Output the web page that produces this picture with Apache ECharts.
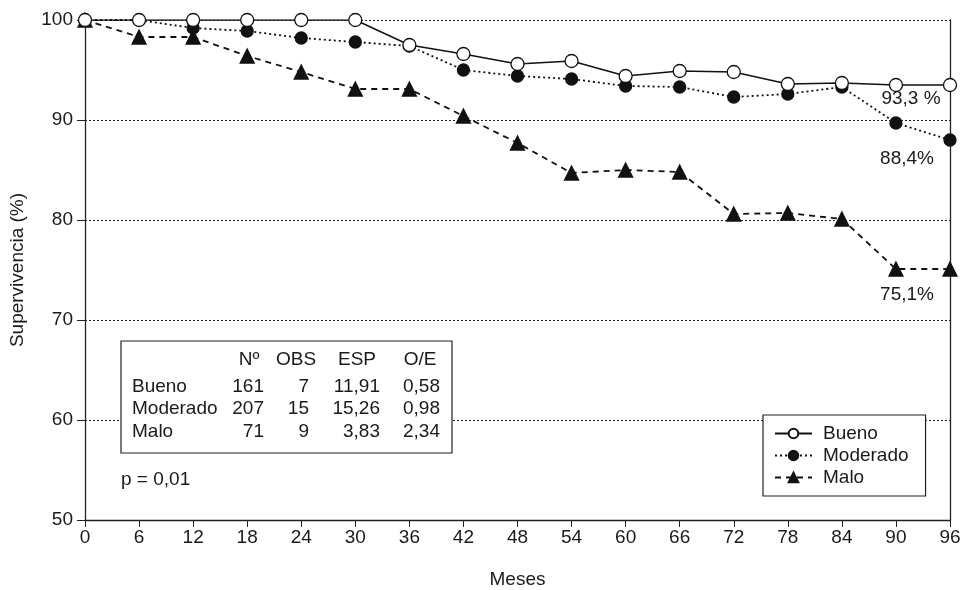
<!DOCTYPE html>
<html><head><meta charset="utf-8">
<script src="https://cdn.jsdelivr.net/npm/echarts@6/dist/echarts.min.js"></script>
<style>html,body{margin:0;padding:0;background:#fff}#c{width:962px;height:590px}</style>
</head><body><div id="c"></div>
<script>
const months = [0,6,12,18,24,30,36,42,48,54,60,66,72,78,84,90,96];
const bueno    = [100,100,100,100,100,100,97.5,96.6,95.6,95.9,94.4,94.9,94.8,93.6,93.7,93.5,93.5];
const moderado = [100,100,99.2,98.9,98.2,97.8,97.4,95.0,94.4,94.1,93.4,93.3,92.3,92.6,93.3,89.7,88.0];
const malo     = [100,98.3,98.3,96.4,94.8,93.1,93.1,90.4,87.7,84.7,85.0,84.8,80.6,80.7,80.1,75.1,75.1];
const seriesNames = ['Bueno','Moderado','Malo'];
const endLabels = ['93,3 %','88,4%','75,1%'];
const tableHeader = ['Nº','OBS','ESP','O/E'];
const tableN   = ['161','207','71'];
const tableObs = ['7','15','9'];
const tableEsp = ['11,91','15,26','3,83'];
const tableOE  = ['0,58','0,98','2,34'];
const pText = 'p = 0,01';

const FONT = 'Liberation Sans, Arial, sans-serif';
const FS = 19;
const TXT = '#1a1a1a';
const chart = echarts.init(document.getElementById('c'));
const labelOffsets = [[-39, -8], [-43, -2], [-43, 4]];

function mk(vals, idx) {
  return months.map((m, i) => {
    const d = {value: [m, vals[i]]};
    if (i === months.length - 1) {
      d.label = {show: true, formatter: endLabels[idx], position: 'bottom',
        offset: labelOffsets[idx], fontSize: FS, color: TXT, fontFamily: FONT};
    }
    return d;
  });
}

const styles = [
  {symbol:'circle', size:13, color:'#fff', border:'#111', type:'solid', w:1.5},
  {symbol:'circle', size:12, color:'#111', border:'#111', type:[2,3], w:1.8},
  {symbol:'triangle', size:14, color:'#111', border:'#111', type:[6,5], w:1.8}
];
const datas = [bueno, moderado, malo];

// table graphics
const colRight = [264, 309, 380, 440];
const colHead = [249, 296, 357, 420];
const rowY = [387, 409, 432];
const g = [];
g.push({type:'rect', shape:{x:121, y:341, width:331, height:112}, style:{fill:'#fff', stroke:'#222', lineWidth:1.2}, z:10});
const font = FS + 'px ' + FONT;
tableHeader.forEach((h, i) => g.push({type:'text', x:colHead[i], y:360, style:{text:h, fill:TXT, font:font, textAlign:'center', textVerticalAlign:'middle'}, z:11}));
seriesNames.forEach((n, r) => {
  g.push({type:'text', x:132, y:rowY[r], style:{text:n, fill:TXT, font:font, textAlign:'left', textVerticalAlign:'middle'}, z:11});
  [tableN, tableObs, tableEsp, tableOE].forEach((col, c) => g.push({type:'text', x:colRight[c], y:rowY[r], style:{text:col[r], fill:TXT, font:font, textAlign:'right', textVerticalAlign:'middle'}, z:11}));
});
g.push({type:'text', x:121, y:480, style:{text:pText, fill:TXT, font:font, textAlign:'left', textVerticalAlign:'middle'}, z:11});

chart.setOption({
  animation: false,
  backgroundColor: '#fff',
  grid: {left:85, right:12, top:20, bottom:70, outerBoundsMode:'none', containLabel:false},
  legend: {
    data: seriesNames, orient:'vertical', left:763, top:415,
    backgroundColor:'#fff', borderColor:'#222', borderWidth:1.2, borderRadius:0,
    padding:[9, 17, 9, 11], itemWidth:37, itemHeight:12, itemGap:3,
    textStyle:{fontSize:FS, color:TXT, fontFamily:FONT, padding:[0,0,0,6]}
  },
  xAxis: {
    type:'value', min:0, max:96, interval:6,
    name:'Meses', nameLocation:'middle', nameGap:50,
    nameTextStyle:{fontSize:FS, color:TXT, fontFamily:FONT},
    axisLine:{lineStyle:{color:'#222', width:1.3}},
    axisTick:{length:7, lineStyle:{color:'#222'}},
    axisLabel:{fontSize:FS, color:TXT, fontFamily:FONT, margin:8},
    splitLine:{show:false}
  },
  yAxis: [{
    type:'value', min:50, max:100, interval:10,
    name:'Supervivencia (%)', nameLocation:'middle', nameGap:58, nameRotate:90,
    nameTextStyle:{fontSize:FS, color:TXT, fontFamily:FONT},
    axisLine:{show:true, lineStyle:{color:'#222', width:1.3}},
    axisTick:{show:true, length:8, lineStyle:{color:'#222'}},
    axisLabel:{fontSize:FS, color:TXT, fontFamily:FONT, margin:12},
    splitLine:{show:true, lineStyle:{color:'#222', type:[2,2], width:1}}
  },{
    type:'value', min:50, max:100, interval:10, position:'right',
    axisLine:{show:true, lineStyle:{color:'#222', width:1.3}},
    axisTick:{show:false}, axisLabel:{show:false}, splitLine:{show:false}
  }],
  series: datas.map((d, i) => ({
    name: seriesNames[i], type:'line', data: mk(d, i),
    symbol: styles[i].symbol, symbolSize: styles[i].size, showAllSymbol:true,
    lineStyle:{color:'#111', type:styles[i].type, width:styles[i].w},
    itemStyle:{color:styles[i].color, borderColor:styles[i].border, borderWidth:1.3},
    z: 3 - i
  })),
  graphic: g
});
</script></body></html>
